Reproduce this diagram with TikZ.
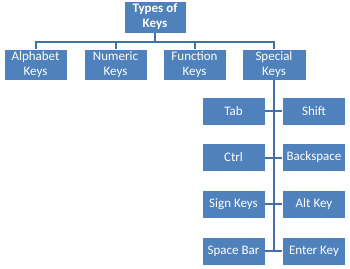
\documentclass[tikz,border=0pt]{standalone}
\usepackage{fontspec}
\setmainfont{Carlito}
\definecolor{boxblue}{RGB}{79,129,189}
\definecolor{lineblue}{RGB}{65,113,170}
\begin{document}
\begin{tikzpicture}[x=1pt,y=-1pt,
  kbox/.style={fill=boxblue,draw=white,line width=0.6pt,text=white,align=center,
    inner sep=0pt,font=\fontsize{13}{15}\selectfont},
  conn/.style={draw=lineblue,line width=2pt}]
\useasboundingbox (0,0) rectangle (350,268);
% top
\node[kbox,minimum width=62pt,minimum height=32pt,font=\fontsize{13}{15}\selectfont\bfseries] (top) at (155,17) {Types of\\Keys};
% second row
\node[kbox,minimum width=63pt,minimum height=31pt] (alpha) at (35.5,64.5) {Alphabet\\Keys};
\node[kbox,minimum width=63pt,minimum height=31pt] (num) at (115.5,64.5) {Numeric\\Keys};
\node[kbox,minimum width=63pt,minimum height=31pt] (func) at (194.5,64.5) {Function\\Keys};
\node[kbox,minimum width=64pt,minimum height=31pt] (spec) at (274,64.5) {Special\\Keys};
% children
\tikzset{cbox/.style={kbox,minimum width=63pt,minimum height=28pt}}
\node[cbox] (tab) at (233.5,111) {Tab};
\node[cbox] (shift) at (314,111) {Shift};
\node[cbox] (ctrl) at (233.5,157.5) {Ctrl};
\node[cbox] (back) at (314,157.5) {Backspace};
\node[cbox] (sign) at (233.5,204) {Sign Keys};
\node[cbox] (alt) at (314,204) {Alt Key};
\node[cbox] (space) at (233.5,251) {Space Bar};
\node[cbox] (enter) at (314,251) {Enter Key};
% connectors
\coordinate (bus) at (155,42);
\draw[conn] (top.south) -- (bus);
\draw[conn] (alpha.north) |- (bus) -| (spec.north);
\draw[conn] (num.north) -- (num.north |- bus);
\draw[conn] (func.north) -- (func.north |- bus);
\coordinate (vend) at (spec.south |- space.east);
\draw[conn] (spec.south) -- (vend);
\foreach \l/\r in {tab/shift,ctrl/back,sign/alt,space/enter}{
  \draw[conn] (\l.east) -- (\r.west);
}
\end{tikzpicture}
\end{document}
